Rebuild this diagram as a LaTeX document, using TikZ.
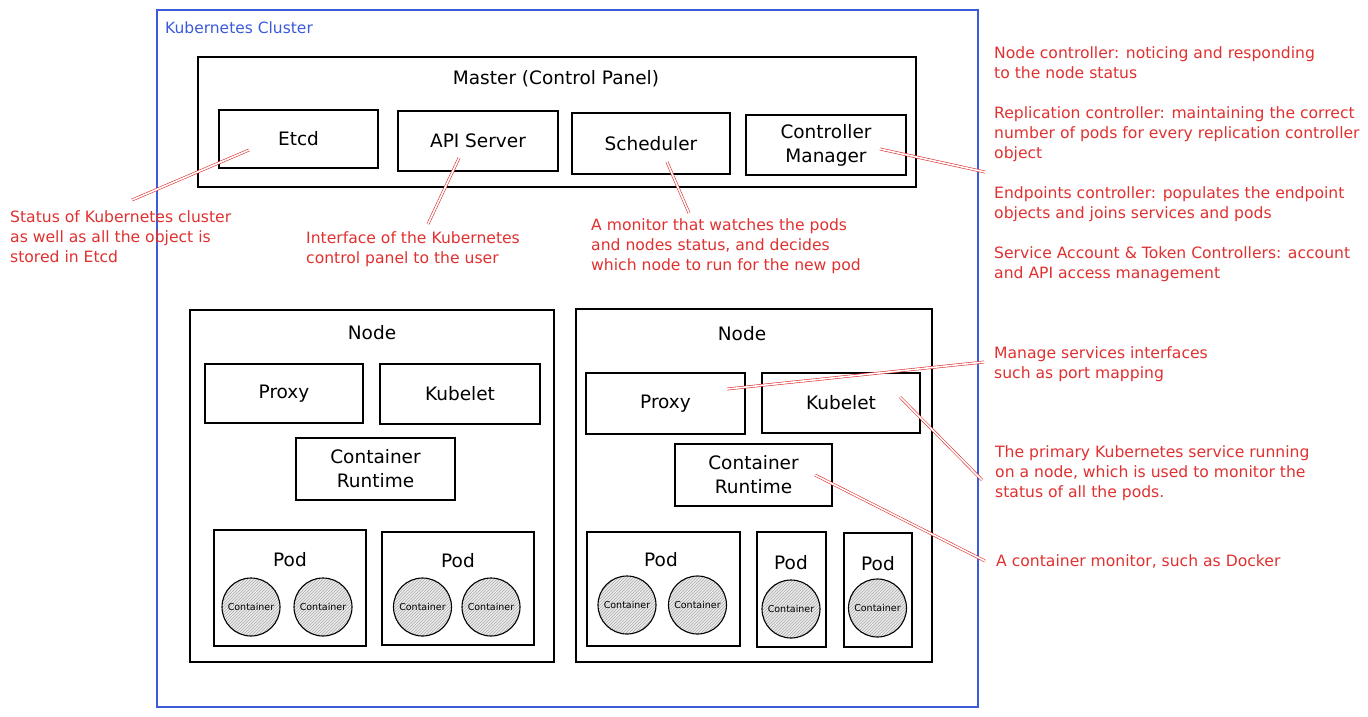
\documentclass[tikz,border=0pt]{standalone}
\usepackage{fontspec}
\setmainfont{DejaVu Sans}
\usetikzlibrary{patterns}
\definecolor{kred}{HTML}{E03131}
\definecolor{kblue}{HTML}{3B5BDB}
\begin{document}
\begin{tikzpicture}[x=1pt,y=-1pt,
  box/.style={draw=black, line width=1.1pt, rectangle, inner sep=0pt, align=center,
    font=\fontsize{18.5}{24}\selectfont},
  title/.style={inner sep=0pt, font=\fontsize{18.5}{24}\selectfont},
  ctr/.style={circle, draw=black, line width=1.1pt, minimum size=58pt, inner sep=0pt,
    preaction={fill=gray!15}, pattern=north east lines, pattern color=gray!65,
    font=\fontsize{9.5}{11}\selectfont},
  notetext/.style={inner sep=0pt, anchor=base west, align=left, text=kred,
    font=\fontsize{15.6}{19.8}\selectfont},
  link/.style={draw=kred, line width=0.6pt, double=white, double distance=1.6pt}
]
\useasboundingbox (0,0) rectangle (1368,716);
\fill[white] (0,0) rectangle (1368,716);

% cluster
\node[draw=kblue, line width=1.3pt, minimum width=821pt, minimum height=697pt, inner sep=0pt] (cluster) at (567.5,358.5) {};
\node[inner sep=0pt, anchor=base west, text=kblue, font=\fontsize{15.5}{18}\selectfont] (clusterlbl) at (165,33) {Kubernetes Cluster};

% master
\node[box, minimum width=718pt, minimum height=130pt] (master) at (557,122) {};
\node[title] (mastertitle) at (556,79) {Master (Control Panel)};
\node[box, minimum width=159pt, minimum height=58pt] (etcd) at (298.5,139) {Etcd};
\node[box, minimum width=160pt, minimum height=60pt] (api) at (478,141) {API Server};
\node[box, minimum width=158pt, minimum height=61pt] (sched) at (651,143.5) {Scheduler};
\node[box, minimum width=160pt, minimum height=60pt] (cm) at (826,145) {Controller\\Manager};

% left node
\node[box, minimum width=364pt, minimum height=352pt] (nodeL) at (372,486) {};
\node[title] (nodeLt) at (372,333) {Node};
\node[box, minimum width=158pt, minimum height=59pt] (proxyL) at (284,393.5) {Proxy};
\node[box, minimum width=160pt, minimum height=60pt] (kubeletL) at (460,394) {Kubelet};
\node[box, minimum width=159pt, minimum height=62pt] (crL) at (375.5,469) {Container\\Runtime};
\node[box, minimum width=152pt, minimum height=116pt] (podL1) at (290,588) {};
\node[title] (podL1t) at (290,560) {Pod};
\node[box, minimum width=152pt, minimum height=113pt] (podL2) at (458,588.5) {};
\node[title] (podL2t) at (458,561) {Pod};
\node[ctr] (cL1) at (251,607) {Container};
\node[ctr] (cL2) at (323,607) {Container};
\node[ctr] (cL3) at (422.5,607) {Container};
\node[ctr] (cL4) at (491,607) {Container};

% right node
\node[box, minimum width=356pt, minimum height=353pt] (nodeR) at (754,485.5) {};
\node[title] (nodeRt) at (742,334) {Node};
\node[box, minimum width=159pt, minimum height=61pt] (proxyR) at (665.5,403.5) {Proxy};
\node[box, minimum width=158pt, minimum height=60pt] (kubeletR) at (841,403) {Kubelet};
\node[box, minimum width=157pt, minimum height=62pt] (crR) at (753.5,475) {Container\\Runtime};
\node[box, minimum width=153pt, minimum height=114pt] (podR1) at (663.5,589) {};
\node[title] (podR1t) at (661,560) {Pod};
\node[box, minimum width=69pt, minimum height=115pt] (podR2) at (791.5,589.5) {};
\node[title] (podR2t) at (791,563) {Pod};
\node[box, minimum width=68pt, minimum height=114pt] (podR3) at (878,590) {};
\node[title] (podR3t) at (878,564) {Pod};
\node[ctr] (cR1) at (627,605) {Container};
\node[ctr] (cR2) at (697.5,605) {Container};
\node[ctr] (cR3) at (791,609) {Container};
\node[ctr] (cR4) at (877.5,608) {Container};

% annotation texts (anchored at the baseline of their last line)
\node[notetext] (tEtcd) at (10,262) {Status of Kubernetes cluster\\as well as all the object is\\stored in Etcd};
\node[notetext] (tApi) at (306,263) {Interface of the Kubernetes\\control panel to the user};
\node[notetext] (tSched) at (591,270) {A monitor that watches the pods\\and nodes status, and decides\\which node to run for the new pod};
\node[notetext] (tNodeCtl) at (994,78) {Node controller: noticing and responding\\to the node status};
\node[notetext] (tRepl) at (994,158) {Replication controller: maintaining the correct\\number of pods for every replication controller\\object};
\node[notetext] (tEndp) at (994,218) {Endpoints controller: populates the endpoint\\objects and joins services and pods};
\node[notetext] (tSvc) at (994,278) {Service Account \& Token Controllers: account\\and API access management};
\node[notetext] (tProxy) at (994,378) {Manage services interfaces\\such as port mapping};
\node[notetext] (tKubelet) at (995,497) {The primary Kubernetes service running\\on a node, which is used to monitor the\\status of all the pods.};
\node[notetext] (tCr) at (996,566) {A container monitor, such as Docker};

% annotation connector ends
\coordinate (etcdA) at (249,150);
\coordinate (etcdB) at (132,200);
\coordinate (apiA) at (459,158);
\coordinate (apiB) at (428,224);
\coordinate (schedA) at (667,162);
\coordinate (schedB) at (689,213);
\coordinate (cmA) at (880,149);
\coordinate (cmB) at (985,172);
\coordinate (proxyA) at (727,389);
\coordinate (proxyB) at (984,362);
\coordinate (kubeletA) at (900,397);
\coordinate (kubeletB) at (982,480);
\coordinate (crA) at (815,475);
\coordinate (crB) at (985,561);

\draw[link] (etcdA) -- (etcdB);
\draw[link] (apiA) -- (apiB);
\draw[link] (schedA) -- (schedB);
\draw[link] (cmA) -- (cmB);
\draw[link] (proxyA) -- (proxyB);
\draw[link] (kubeletA) -- (kubeletB);
\draw[link] (crA) -- (crB);
\end{tikzpicture}
\end{document}
